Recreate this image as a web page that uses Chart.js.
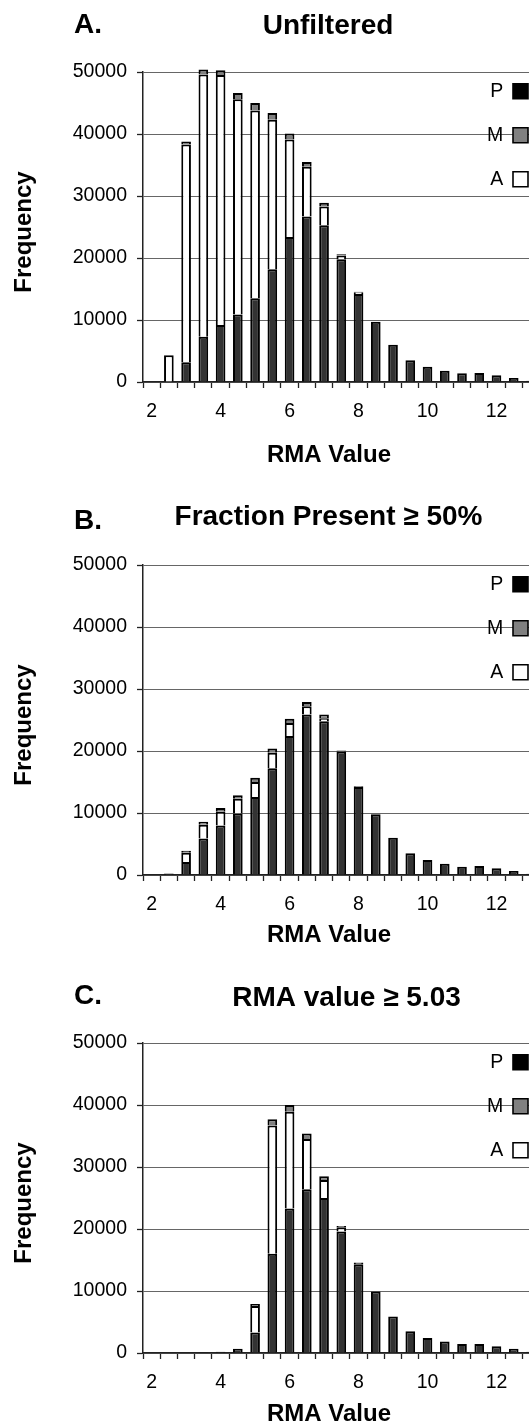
<!DOCTYPE html>
<html>
<head>
<meta charset="utf-8">
<script src="https://cdn.jsdelivr.net/npm/chart.js@4/dist/chart.umd.min.js"></script>
<style>
  html, body { margin: 0; padding: 0; background: #ffffff; }
  body { width: 529px; height: 1424px; overflow: hidden; position: relative; }
  .panel { position: absolute; left: 0; width: 560px; }
  canvas { display: block; }
</style>
</head>
<body>
<div class="panel" style="top:0px;height:470px"><canvas id="chartA" width="560" height="470"></canvas></div>
<div class="panel" style="top:493px;height:460px"><canvas id="chartB" width="560" height="460"></canvas></div>
<div class="panel" style="top:971px;height:460px"><canvas id="chartC" width="560" height="460"></canvas></div>
<script>
// ---------- data ----------
const categories = ['2','2.5','3','3.5','4','4.5','5','5.5','6','6.5','7','7.5','8','8.5','9','9.5','10','10.5','11','11.5','12','12.5','13'];
const xTickLabels = ['2','4','6','8','10','12'];
const yTickLabels = ['0','10000','20000','30000','40000','50000'];
const legendOrder = ['P','M','A'];
const panelLetters = ['A.','B.','C.'];
const panelTitles = ['Unfiltered','Fraction Present \u2265 50%','RMA value \u2265 5.03'];
const xAxisTitle = 'RMA Value';
const yAxisTitle = 'Frequency';

// A. Unfiltered
const unfilteredP = [0,0,3200,7300,9200,10900,13500,18200,23400,26700,25300,19800,14200,9700,6000,3500,2450,1800,1400,1450,1080,650,200];
const unfilteredA = [0,4300,35100,42300,40300,34700,30300,24100,15700,8000,3000,600,200,0,0,0,0,0,0,0,0,0,0];
const unfilteredM = [0,0,500,800,800,1000,1200,1100,1000,800,600,200,150,0,0,0,0,0,0,0,0,0,0];

// B. Fraction Present >= 50%
const fractionP = [0,250,2100,5900,8000,9900,12600,17200,22400,25900,24800,19900,14200,9800,6000,3500,2400,1800,1350,1450,1070,640,200];
const fractionA = [0,0,1500,2200,2200,2400,2400,2500,2100,1300,500,0,0,0,0,0,0,0,0,0,0,0,0];
const fractionM = [0,0,300,500,600,550,700,700,700,700,600,200,100,0,0,0,0,0,0,0,0,0,0];

// C. RMA value >= 5.03
const rmaP = [0,0,80,120,200,700,3300,16000,23300,26400,25000,19600,14300,9900,5900,3500,2400,1850,1440,1440,1070,700,200];
const rmaA = [0,0,0,0,0,0,4300,20700,15600,8100,2900,700,200,0,0,0,0,0,0,0,0,0,0];
const rmaM = [0,0,0,0,0,0,300,1000,1100,900,600,200,100,0,0,0,0,0,0,0,0,0,0];

// ---------- styling / layout ----------
const FONT = "'Liberation Sans', Arial, Helvetica, sans-serif";
const seriesStyle = {
  P: { fill: '#333333', legendFill: '#000000' },
  M: { fill: '#808080', legendFill: '#808080' },
  A: { fill: '#ffffff', legendFill: '#ffffff' }
};
const panelLayout = [
  { id: 'chartA', xScaleH: 88, xTitlePadB: 0.6, titleCX: 328, titleCY: 26, letterCY: 25 },
  { id: 'chartB', xScaleH: 78, xTitlePadB: 3.0, titleCX: 328.5, titleCY: 24.5, letterCY: 28 },
  { id: 'chartC', xScaleH: 78, xTitlePadB: 2.6, titleCX: 346.5, titleCY: 27, letterCY: 25 }
];

function makeChart(layout, P, M, A, letter, titleText) {
  const positionPlugin = {
    id: 'panelPositions',
    afterLayout(chart) {
      const lg = chart.legend;
      if (lg) {
        const right = 552.5, top = 57;
        lg.right = right; lg.left = right - lg.width;
        lg.top = top; lg.bottom = top + 200;
      }
      const t = chart.titleBlock;
      if (t) {
        t.left = 0; t.right = 2 * layout.titleCX;
        t.top = layout.titleCY - 16.8; t.bottom = t.top + t.height;
      }
      const sub = chart.boxes.find(b => b !== t && b.options && b.options.text === letter);
      if (sub) {
        sub.left = 74; sub.right = 240;
        sub.top = layout.letterCY - 7; sub.bottom = sub.top + sub.height;
      }
      const xs = chart.scales.x, ys = chart.scales.y;
      if (!xs.__shifted) {
        const orig = xs.drawTitle;
        xs.drawTitle = function () {
          const l = this.left, r = this.right;
          this.left = l - 12.3; this.right = r - 12.3;
          orig.call(this);
          this.left = l; this.right = r;
        };
        xs.__shifted = true;
      }
      if (!ys.__shifted) {
        const orig = ys.drawTitle;
        ys.drawTitle = function () {
          const tp = this.top, bt = this.bottom;
          this.top = tp + 5; this.bottom = bt + 5;
          orig.call(this);
          this.top = tp; this.bottom = bt;
        };
        ys.__shifted = true;
      }
    }
  };

  const mk = (label, data) => ({
    label, data,
    backgroundColor: seriesStyle[label].fill,
    borderColor: '#000000',
    borderWidth: 2,
    borderSkipped: 'start',
    barPercentage: 0.56,
    categoryPercentage: 1.0,
    clip: false
  });

  return new Chart(document.getElementById(layout.id), {
    type: 'bar',
    data: {
      labels: categories,
      datasets: [mk('P', P), mk('A', A), mk('M', M)]
    },
    options: {
      responsive: false,
      animation: false,
      devicePixelRatio: 1,
      events: [],
      layout: { padding: { top: 24.4, left: 0, right: 20.4, bottom: 0 } },
      scales: {
        x: {
          stacked: true,
          offset: true,
          grid: { offset: true, drawOnChartArea: false, drawTicks: true, tickLength: 6, tickColor: '#222222', tickWidth: 1.3 },
          border: { display: true, color: '#222222', width: 1.5 },
          ticks: {
            autoSkip: false, maxRotation: 0, minRotation: 0, padding: 12,
            color: '#000000', font: { family: FONT, size: 19.5 },
            callback: function (v) { const l = this.getLabelForValue(v); return xTickLabels.includes(l) ? l : ''; }
          },
          title: {
            display: true, text: xAxisTitle, color: '#000000',
            font: { family: FONT, size: 24, weight: 'bold' },
            padding: { top: 0, bottom: layout.xTitlePadB }
          },
          afterFit(s) { s.height = layout.xScaleH; }
        },
        y: {
          stacked: true,
          min: 0, max: 50000,
          ticks: {
            stepSize: 10000, padding: 10, color: '#000000',
            font: { family: FONT, size: 19.5 },
            callback: (v) => yTickLabels[Math.round(v / 10000)]
          },
          grid: { color: '#666666', lineWidth: 1, tickLength: 6, tickColor: '#222222', tickWidth: 1.3 },
          border: { display: true, color: '#222222', width: 1.5 },
          title: {
            display: true, text: yAxisTitle, color: '#000000',
            font: { family: FONT, size: 24, weight: 'bold' },
            padding: { top: 9.5, bottom: 0 }
          },
          afterFit(s) { s.width = 143; }
        }
      },
      plugins: {
        tooltip: { enabled: false },
        title: {
          display: true, text: titleText, color: '#000000', align: 'center',
          font: { family: FONT, size: 28, weight: 'bold', lineHeight: 1.2 },
          padding: { top: 0, bottom: 0 }
        },
        subtitle: {
          display: true, text: letter, color: '#000000', align: 'start',
          font: { family: FONT, size: 28, weight: 'bold', lineHeight: 0.5 },
          padding: { top: 0, bottom: 0 }
        },
        legend: {
          display: true,
          position: 'chartArea',
          align: 'start',
          rtl: true,
          labels: {
            color: '#000000',
            font: { family: FONT, size: 19.5 },
            boxWidth: 15, boxHeight: 15, padding: 24.5,
            sort: (a, b) => legendOrder.indexOf(a.text) - legendOrder.indexOf(b.text),
            generateLabels(chart) {
              const items = Chart.defaults.plugins.legend.labels.generateLabels(chart);
              items.forEach(it => {
                it.fillStyle = seriesStyle[it.text].legendFill;
                it.strokeStyle = '#000000';
                it.lineWidth = 1.6;
              });
              return items;
            }
          }
        }
      }
    },
    plugins: [positionPlugin]
  });
}

makeChart(panelLayout[0], unfilteredP, unfilteredM, unfilteredA, panelLetters[0], panelTitles[0]);
makeChart(panelLayout[1], fractionP, fractionM, fractionA, panelLetters[1], panelTitles[1]);
makeChart(panelLayout[2], rmaP, rmaM, rmaA, panelLetters[2], panelTitles[2]);
</script>
</body>
</html>
